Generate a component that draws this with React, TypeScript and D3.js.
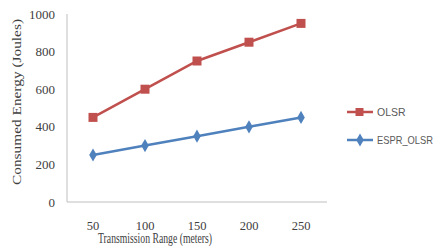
import React from "react";
import * as d3 from "d3";

const categories = ["50", "100", "150", "200", "250"];
const olsr = [450, 600, 750, 850, 950];
const espr = [250, 300, 350, 400, 450];
const yTicks = [0, 200, 400, 600, 800, 1000];

export default function App() {
  const W = 436, H = 247;
  const x = d3.scaleBand().domain(categories).range([67, 327]);
  const y = d3.scaleLinear().domain([0, 1000]).range([202, 14]);
  const cx = (c: string) => (x(c) as number) + x.bandwidth() / 2;
  const line = d3.line<number>().x((_, i) => cx(categories[i])).y((d) => y(d));
  const red = "#C0504D", blue = "#4F81BD";
  const diamond = d3.symbol().type(d3.symbolDiamond).size(50)();
  const font = "Liberation Serif";
  return (
    <svg width={W} height={H} style={{ position: "absolute", left: 0, top: 0, background: "#fff" }}>
      <line x1={67} x2={67} y1={14} y2={202} stroke="#bfbfbf" strokeWidth={1} />
      <line x1={67} x2={327} y1={202} y2={202} stroke="#bfbfbf" strokeWidth={1} />
      {yTicks.map((t) => (
        <text key={t} x={55} y={y(t) + 4.5} textAnchor="end" fontFamily={font} fontSize={13} fill="#404040">{t}</text>
      ))}
      {categories.map((c) => (
        <text key={c} x={cx(c)} y={230} textAnchor="middle" fontFamily={font} fontSize={12.5} fill="#404040">{c}</text>
      ))}
      <text x={155} y={243} textAnchor="middle" fontFamily={font} fontSize={14} fill="#404040" textLength={114} lengthAdjust="spacingAndGlyphs">Transmission Range (meters)</text>
      <text transform={`translate(21,102) rotate(-90)`} textAnchor="middle" fontFamily={font} fontSize={13} fill="#404040" textLength={166} lengthAdjust="spacingAndGlyphs">Consumed Energy (Joules)</text>
      <path d={line(olsr) as string} fill="none" stroke={red} strokeWidth={2.5} />
      <path d={line(espr) as string} fill="none" stroke={blue} strokeWidth={2.5} />
      {olsr.map((v, i) => (
        <rect key={i} x={cx(categories[i]) - 4.5} y={y(v) - 4.5} width={9} height={9} fill={red} />
      ))}
      {espr.map((v, i) => (
        <path key={i} d={diamond as string} transform={`translate(${cx(categories[i])},${y(v)})`} fill={blue} />
      ))}
      <line x1={347} x2={373} y1={112} y2={112} stroke={red} strokeWidth={2.5} />
      <rect x={355.5} y={108} width={8} height={8} fill={red} />
      <text x={377} y={116} fontFamily="Liberation Sans" fontSize={10.5} fill="#595959">OLSR</text>
      <line x1={347} x2={373} y1={140} y2={140} stroke={blue} strokeWidth={2.5} />
      <path d={diamond as string} transform="translate(360,140)" fill={blue} />
      <text x={377} y={144} fontFamily="Liberation Sans" fontSize={10.5} fill="#595959" textLength={56} lengthAdjust="spacingAndGlyphs">ESPR_OLSR</text>
    </svg>
  );
}
